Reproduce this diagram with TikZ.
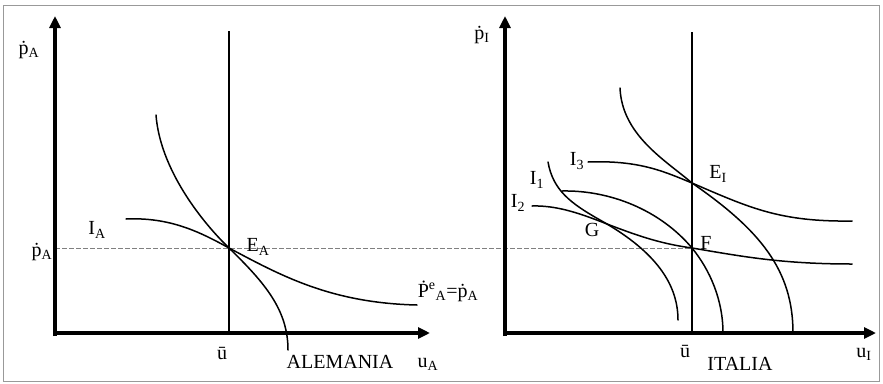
\documentclass[tikz,border=0pt]{standalone}
\usepackage{fontspec}
\setmainfont{Liberation Serif}
\usetikzlibrary{arrows.meta}
\begin{document}
\begin{tikzpicture}[x=1pt,y=-1pt,
  axis/.style={line width=3.2pt,-{Triangle[length=12pt,width=11pt]}},
  curve/.style={line width=1.5pt,line cap=round},
  vline/.style={line width=1.3pt},
  guide/.style={line width=0.6pt,gray,dash pattern=on 5pt off 2pt},
  lbl/.style={font=\fontsize{20}{22}\selectfont,inner sep=0pt}]
\useasboundingbox (0,0) rectangle (883,383);
\draw[line width=0.8pt,gray!80] (3,5) rectangle (879,381);
% ---------- left panel ----------
\coordinate (LO) at (55,333);
\coordinate (LY) at (55,16);
\coordinate (LX) at (430,333);
\draw[guide] (55,248) -- (692,248);
\draw[axis] (55,336) -- (LY);
\draw[axis] (LO) -- (LX);
\draw[vline] (229,31) -- (229,333);
\draw[curve] (156,115) .. controls (160,168) and (200,220) .. (229,248)
                       .. controls (265,283) and (288,310) .. (288,350);
\draw[curve] (126,219) .. controls (170,217) and (200,232) .. (229,248)
                       .. controls (280,275) and (330,303) .. (417,305);
\node[lbl] (pAtop) at (29,50) {\.p\textsubscript{A}};
\node[lbl] (pAmid) at (42,252) {\.p\textsubscript{A}};
\node[lbl] (IA) at (97,230) {I\textsubscript{A}};
\node[lbl] (EA) at (258,247) {E\textsubscript{A}};
\node[lbl] (PeA) at (448,291) {\.P\textsuperscript{e}\textsubscript{A}=\.p\textsubscript{A}};
\node[lbl] (ubarA) at (222,353) {\=u};
\node[lbl] (ALE) at (340,362) {ALEMANIA};
\node[lbl] (uA) at (428,364) {u\textsubscript{A}};
% ---------- right panel ----------
\coordinate (RO) at (505,333);
\coordinate (RY) at (505,16);
\coordinate (RX) at (876,333);
\draw[axis] (505,336) -- (RY);
\draw[axis] (RO) -- (RX);
\draw[vline] (692,32) -- (692,333);
% Phillips curve through E_I
\draw[curve] (620,88) .. controls (622,135) and (665,160) .. (692,183)
                      .. controls (760,230) and (793,270) .. (793,333);
% I3
\draw[curve] (588,162) .. controls (640,160) and (665,172) .. (692,183)
                       .. controls (750,208) and (780,222) .. (852,221);
% I1 (steep, through G)
\draw[curve] (548,162) .. controls (553,190) and (570,203) .. (600,220)
                       .. controls (650,248) and (678,280) .. (678,320);
% curve through F
\draw[curve] (562,191) .. controls (610,190) and (660,210) .. (692,248)
                       .. controls (710,270) and (723,300) .. (723,333);
% I2
\draw[curve] (532,206) .. controls (565,205) and (595,220) .. (623,230)
                       .. controls (650,240) and (670,245) .. (692,248)
                       .. controls (740,256) and (780,264) .. (852,264);
\node[lbl] (pItop) at (482,35) {\.p\textsubscript{I}};
\node[lbl] (I3) at (577,161) {I\textsubscript{3}};
\node[lbl] (I1) at (537,180) {I\textsubscript{1}};
\node[lbl] (I2) at (518,203) {I\textsubscript{2}};
\node[lbl] (G) at (592,230) {G};
\node[lbl] (F) at (706,243) {F};
\node[lbl] (EI) at (718,174) {E\textsubscript{I}};
\node[lbl] (ubarI) at (685,351) {\=u};
\node[lbl] (ITA) at (740,364) {ITALIA};
\node[lbl] (uI) at (864,354) {u\textsubscript{I}};
\end{tikzpicture}
\end{document}
